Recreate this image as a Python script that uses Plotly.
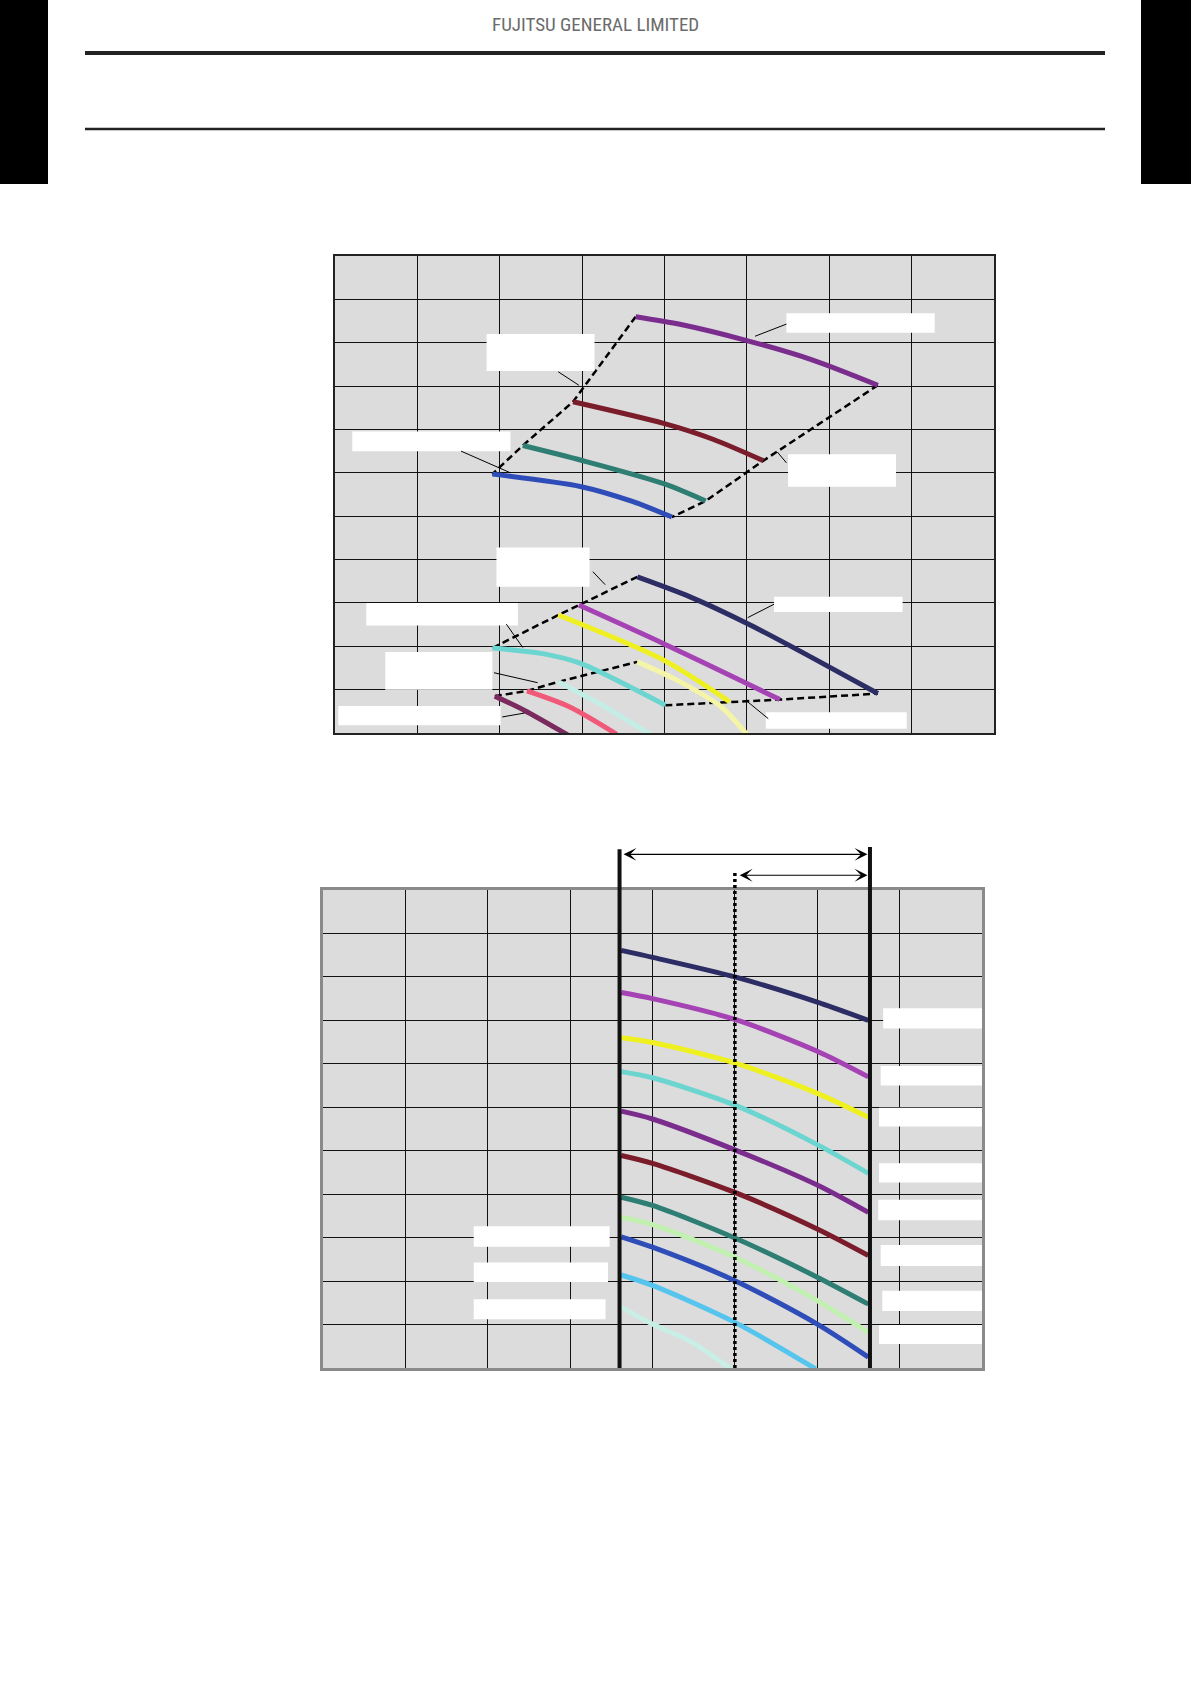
import plotly.graph_objects as go

W, H = 1191, 1684

# ---------------- data (grid units: 8 columns x 11 rows) ----------------
# Top chart - upper group of curves
tu_purple_x = [3.65, 4.2, 5.0, 5.8, 6.59]
tu_purple_y = [9.60, 9.42, 9.05, 8.60, 8.02]
tu_maroon_x = [2.89, 3.99, 4.58, 5.20]
tu_maroon_y = [7.64, 7.14, 6.78, 6.28]
tu_teal_x = [2.28, 2.99, 3.99, 4.50]
tu_teal_y = [6.63, 6.29, 5.75, 5.35]
tu_blue_x = [1.91, 2.99, 3.61, 4.09]
tu_blue_y = [5.97, 5.68, 5.34, 4.98]

# Top chart - lower group of curves
tl_navy_x = [3.67, 4.31, 5.01, 5.78, 6.59]
tl_navy_y = [3.60, 3.14, 2.52, 1.75, 0.91]
tl_magenta_x = [2.96, 3.99, 5.00, 5.40]
tl_magenta_y = [2.95, 2.06, 1.14, 0.77]
tl_yellow_x = [2.71, 3.99, 4.79]
tl_yellow_y = [2.72, 1.68, 0.72]
tl_cyan_x = [1.91, 2.52, 2.99, 3.50, 4.01]
tl_cyan_y = [1.96, 1.83, 1.60, 1.14, 0.64]
tl_lightyellow_x = [3.67, 4.15, 4.69, 5.05]
tl_lightyellow_y = [1.64, 1.22, 0.60, -0.15]
tl_lightcyan_x = [2.71, 3.28, 3.85]
tl_lightcyan_y = [1.18, 0.60, -0.06]
tl_pink_x = [2.33, 2.85, 3.42]
tl_pink_y = [0.97, 0.60, -0.03]
tl_plum_x = [1.94, 2.30, 2.83]
tl_plum_y = [0.85, 0.52, -0.05]

# Bottom chart curves
b_x = [3.62, 4.0, 5.0, 6.0, 6.62]
b_navy_y = [9.61, 9.45, 9.00, 8.42, 8.00]
b_magenta_y = [8.64, 8.50, 8.02, 7.29, 6.70]
b_yellow_y = [7.60, 7.49, 7.02, 6.32, 5.77]
b_cyan_y = [6.82, 6.68, 6.05, 5.14, 4.48]
b_purple_y = [5.91, 5.73, 5.02, 4.21, 3.58]
b_maroon_y = [4.89, 4.71, 4.04, 3.20, 2.59]
b_teal_y = [3.93, 3.74, 2.99, 2.09, 1.47]
b_lightgreen_y = [3.47, 3.30, 2.55, 1.55, 0.82]
b_blue_y = [3.02, 2.78, 2.01, 1.01, 0.25]
b_lightblue_x = [3.62, 4.0, 5.0, 5.98]
b_lightblue_y = [2.14, 1.90, 1.05, -0.02]
b_palecyan_x = [3.62, 4.0, 4.48, 4.95]
b_palecyan_y = [1.40, 1.01, 0.59, -0.02]

# Bottom chart range markers
range_left_x = 3.60
range_right_x = 6.64
range_mid_x = 5.0

# ---------------- helpers ----------------
def px(x):
    return x / W

def py(y):
    return 1 - y / H

TOP_DOM_X = [px(335), px(994)]
TOP_DOM_Y = [py(733), py(256)]
BOT_DOM_X = [px(323), px(982)]
BOT_DOM_Y = [py(1368), py(890)]
OVL_DOM_Y = [py(1368), py(838)]
OVL_TOP = 11 * (1368 - 838) / (1368 - 890)

fig = go.Figure()

def curve(x, y, color, xa="x", ya="y", width=5):
    fig.add_trace(go.Scatter(x=x, y=y, mode="lines", xaxis=xa, yaxis=ya,
                             line=dict(color=color, width=width, shape="spline", smoothing=0.8),
                             hoverinfo="skip", showlegend=False))

def dashed(x, y, xa="x", ya="y"):
    fig.add_trace(go.Scatter(x=x, y=y, mode="lines", xaxis=xa, yaxis=ya,
                             line=dict(color="black", width=2.5, dash="7px,4px"),
                             hoverinfo="skip", showlegend=False))

# envelopes (top chart, upper)
dashed([tu_purple_x[0], tu_maroon_x[0], tu_teal_x[0], tu_blue_x[0]],
       [tu_purple_y[0], tu_maroon_y[0], tu_teal_y[0], tu_blue_y[0]])
dashed([tu_purple_x[-1], tu_maroon_x[-1], tu_teal_x[-1], tu_blue_x[-1]],
       [tu_purple_y[-1], tu_maroon_y[-1], tu_teal_y[-1], tu_blue_y[-1]])
# envelopes (top chart, lower)
dashed([tl_navy_x[0], tl_magenta_x[0], tl_yellow_x[0], tl_cyan_x[0]],
       [tl_navy_y[0], tl_magenta_y[0], tl_yellow_y[0], tl_cyan_y[0]])
dashed([tl_cyan_x[-1], tl_yellow_x[-1], tl_magenta_x[-1], tl_navy_x[-1]],
       [tl_cyan_y[-1], tl_yellow_y[-1], tl_magenta_y[-1], tl_navy_y[-1]])
dashed([tl_plum_x[0], tl_pink_x[0], tl_lightcyan_x[0], tl_lightyellow_x[0]],
       [tl_plum_y[0], tl_pink_y[0], tl_lightcyan_y[0], tl_lightyellow_y[0]])

curve(tu_purple_x, tu_purple_y, "#7B2D8E")
curve(tu_maroon_x, tu_maroon_y, "#7A1C2A")
curve(tu_teal_x, tu_teal_y, "#2E7E74")
curve(tu_blue_x, tu_blue_y, "#2F4DB8")

curve(tl_lightyellow_x, tl_lightyellow_y, "#F5F5A8")
curve(tl_lightcyan_x, tl_lightcyan_y, "#C4EDE6")
curve(tl_pink_x, tl_pink_y, "#F05A78")
curve(tl_plum_x, tl_plum_y, "#7B2A5E")
curve(tl_cyan_x, tl_cyan_y, "#6DD5D0")
curve(tl_yellow_x, tl_yellow_y, "#EEF020")
curve(tl_magenta_x, tl_magenta_y, "#A543B5")
curve(tl_navy_x, tl_navy_y, "#2D2D66")

# bottom chart curves
for yy, col in [(b_navy_y, "#2D2D66"), (b_magenta_y, "#A543B5"), (b_yellow_y, "#EEF020"),
                (b_cyan_y, "#6DD5D0"), (b_purple_y, "#7B2D8E"), (b_maroon_y, "#7A1C2A"),
                (b_lightgreen_y, "#C2F0B0"), (b_teal_y, "#2E7E74"), (b_blue_y, "#2F4DB8")]:
    curve(b_x, yy, col, "x2", "y2", 5)
curve(b_lightblue_x, b_lightblue_y, "#55C5EE", "x2", "y2", 5)
curve(b_palecyan_x, b_palecyan_y, "#C8EEE6", "x2", "y2", 5)

# bottom range markers on overlay axes
fig.add_trace(go.Scatter(x=[range_mid_x, range_mid_x], y=[0, 11.42], mode="lines", xaxis="x3", yaxis="y3",
                         line=dict(color="black", width=3.5, dash="3px,3px"), hoverinfo="skip", showlegend=False))
fig.add_trace(go.Scatter(x=[range_left_x, range_left_x], y=[0, 11.94], mode="lines", xaxis="x3", yaxis="y3",
                         line=dict(color="#111111", width=4), hoverinfo="skip", showlegend=False))
fig.add_trace(go.Scatter(x=[range_right_x, range_right_x], y=[0, 11.99], mode="lines", xaxis="x3", yaxis="y3",
                         line=dict(color="#111111", width=4), hoverinfo="skip", showlegend=False))

annotations = []
for (x0, x1, yv) in [(range_left_x + 0.03, range_right_x - 0.03, 11.82),
                     (range_mid_x + 0.04, range_right_x - 0.03, 11.34)]:
    annotations.append(dict(x=x1, y=yv, ax=x0, ay=yv, xref="x3", yref="y3", axref="x3", ayref="y3",
                            text="", showarrow=True, arrowhead=3, startarrowhead=3, arrowside="end+start",
                            arrowsize=1.8, startarrowsize=1.8, arrowwidth=1.2, arrowcolor="black",
                            standoff=0, startstandoff=0))

annotations.append(dict(x=px(595), y=py(25), xref="paper", yref="paper", text="FUJITSU GENERAL LIMITED",
                        showarrow=False, xanchor="center", yanchor="middle",
                        font=dict(family="Liberation Sans Narrow, Arial Narrow, Roboto Condensed, sans-serif",
                                  size=19, color="#6B6B6B")))

shapes = []
# page decorations
shapes.append(dict(type="rect", xref="paper", yref="paper", x0=0, x1=px(48), y0=py(184), y1=1,
                   fillcolor="black", line=dict(width=0)))
shapes.append(dict(type="rect", xref="paper", yref="paper", x0=px(1141), x1=1, y0=py(184), y1=1,
                   fillcolor="black", line=dict(width=0)))
shapes.append(dict(type="line", xref="paper", yref="paper", x0=px(85), x1=px(1105), y0=py(53), y1=py(53),
                   line=dict(color="#222222", width=4)))
shapes.append(dict(type="line", xref="paper", yref="paper", x0=px(85), x1=px(1105), y0=py(129), y1=py(129),
                   line=dict(color="#222222", width=2.3)))

# chart backgrounds
shapes.append(dict(type="rect", xref="x", yref="y", x0=0, x1=8, y0=0, y1=11, layer="below",
                   fillcolor="#DCDCDC", line=dict(width=0)))
shapes.append(dict(type="rect", xref="x2", yref="y2", x0=0, x1=8, y0=0, y1=11, layer="below",
                   fillcolor="#DCDCDC", line=dict(width=0)))

# white label boxes (text removed) and leader lines - top chart
top_boxes = [(5.48, 7.28, 9.23, 9.68), (1.84, 3.15, 8.35, 9.20), (0.21, 2.13, 6.50, 6.95),
             (5.50, 6.81, 5.68, 6.43), (1.96, 3.09, 3.37, 4.28), (0.38, 2.22, 2.48, 3.00),
             (0.61, 1.91, 1.00, 1.87), (0.04, 2.01, 0.18, 0.62), (5.33, 6.89, 2.79, 3.14),
             (5.23, 6.94, 0.10, 0.48)]
top_leaders = [(5.48, 9.43, 5.10, 9.15), (2.71, 8.33, 2.96, 8.02), (1.53, 6.50, 2.13, 6.00),
               (5.48, 6.23, 5.37, 6.48), (3.13, 3.72, 3.28, 3.42), (2.08, 2.51, 2.28, 1.97),
               (1.93, 1.39, 2.46, 1.16), (2.03, 0.37, 2.30, 0.46), (5.33, 2.97, 5.01, 2.66),
               (5.26, 0.33, 4.99, 0.75)]
for (x0, x1, y0, y1) in top_boxes:
    shapes.append(dict(type="rect", xref="x", yref="y", x0=x0, x1=x1, y0=y0, y1=y1,
                       fillcolor="white", line=dict(width=0)))
for (x0, y0, x1, y1) in top_leaders:
    shapes.append(dict(type="line", xref="x", yref="y", x0=x0, y0=y0, x1=x1, y1=y1,
                       line=dict(color="black", width=1)))

bot_boxes = [(6.80, 8.0, 7.81, 8.28), (6.77, 8.0, 6.50, 6.95), (6.75, 8.0, 5.56, 5.99),
             (6.75, 8.0, 4.27, 4.71), (6.74, 8.0, 3.40, 3.87), (6.77, 8.0, 2.35, 2.83),
             (6.79, 8.0, 1.31, 1.78), (6.75, 8.0, 0.55, 0.99),
             (1.83, 3.48, 2.79, 3.26), (1.83, 3.46, 1.98, 2.43), (1.83, 3.43, 1.12, 1.58)]
for (x0, x1, y0, y1) in bot_boxes:
    shapes.append(dict(type="rect", xref="x2", yref="y2", x0=x0, x1=x1, y0=y0, y1=y1,
                       fillcolor="white", line=dict(width=0)))

axis_common = dict(showticklabels=False, ticks="", zeroline=False, dtick=1, tick0=0,
                   showgrid=True, mirror=True, showline=True, fixedrange=True)

fig.update_layout(
    width=W, height=H, margin=dict(l=0, r=0, t=0, b=0),
    paper_bgcolor="white", plot_bgcolor="rgba(0,0,0,0)",
    showlegend=False,
    xaxis=dict(domain=TOP_DOM_X, range=[0, 8], anchor="y", gridcolor="#111111", gridwidth=1,
               linecolor="#222222", linewidth=2, **axis_common),
    yaxis=dict(domain=TOP_DOM_Y, range=[0, 11], anchor="x", gridcolor="#111111", gridwidth=1,
               linecolor="#222222", linewidth=2, **axis_common),
    xaxis2=dict(domain=BOT_DOM_X, range=[0, 8], anchor="y2", gridcolor="#111111", gridwidth=1,
                linecolor="#8A8A8A", linewidth=3, **axis_common),
    yaxis2=dict(domain=BOT_DOM_Y, range=[0, 11], anchor="x2", gridcolor="#111111", gridwidth=1,
                linecolor="#8A8A8A", linewidth=3, **axis_common),
    xaxis3=dict(domain=BOT_DOM_X, range=[0, 8], anchor="y3", visible=False, fixedrange=True),
    yaxis3=dict(domain=OVL_DOM_Y, range=[0, OVL_TOP], anchor="x3", visible=False, fixedrange=True),
    shapes=shapes,
    annotations=annotations,
)

fig.write_html("out.html", config={"displayModeBar": False, "staticPlot": True},
               post_script="document.body.style.margin='0';")
